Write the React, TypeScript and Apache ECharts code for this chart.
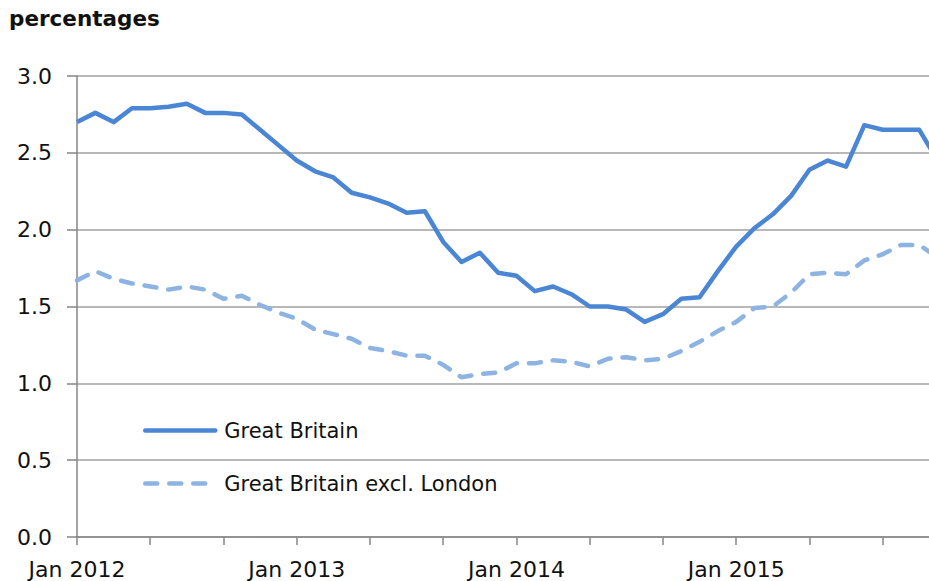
import React, { useEffect, useRef } from "react";
import * as echarts from "echarts";

const MONTHS = ["Jan", "Feb", "Mar", "Apr", "May", "Jun", "Jul", "Aug", "Sep", "Oct", "Nov", "Dec"];
const YEARS = [2012, 2013, 2014, 2015];
const categories: string[] = YEARS.flatMap((y) => MONTHS.map((m) => `${m} ${y}`));

const greatBritain = [
  2.70, 2.76, 2.70, 2.79, 2.79, 2.80, 2.82, 2.76, 2.76, 2.75,
  2.65, 2.55, 2.45, 2.38, 2.34, 2.24, 2.21, 2.17, 2.11, 2.12,
  1.92, 1.79, 1.85, 1.72, 1.70, 1.60, 1.63, 1.58, 1.50, 1.50,
  1.48, 1.40, 1.45, 1.55, 1.56, 1.73, 1.89, 2.01, 2.10, 2.22,
  2.39, 2.45, 2.41, 2.68, 2.65, 2.65, 2.65, 2.45,
];

const gbExclLondon = [
  1.67, 1.73, 1.68, 1.65, 1.63, 1.61, 1.63, 1.61, 1.55, 1.57,
  1.51, 1.46, 1.42, 1.35, 1.32, 1.29, 1.23, 1.21, 1.18, 1.18,
  1.12, 1.04, 1.06, 1.07, 1.13, 1.13, 1.15, 1.14, 1.11, 1.16,
  1.17, 1.15, 1.16, 1.21, 1.27, 1.34, 1.40, 1.49, 1.50, 1.59,
  1.71, 1.72, 1.71, 1.80, 1.84, 1.90, 1.90, 1.82,
];

const seriesNames = ["Great Britain", "Great Britain excl. London"];
const yTicks = { min: 0, max: 3, interval: 0.5 };

const FONT = "DejaVu Sans";
const DASH = [12, 12];

export default function App() {
  const ref = useRef<HTMLDivElement>(null);

  useEffect(() => {
    if (!ref.current) return;
    const chart = echarts.init(ref.current, null, { renderer: "svg" });
    chart.setOption({
      animation: false,
      backgroundColor: "#ffffff",
      title: {
        text: "percentages",
        left: 9,
        top: 7,
        padding: 0,
        textStyle: { fontFamily: FONT, fontWeight: "bold", fontSize: 21.5, color: "#111111" },
      },
      legend: {
        orient: "vertical",
        left: 143,
        top: 420,
        padding: 0,
        itemWidth: 70,
        itemHeight: 21,
        itemGap: 32,
        icon: "inherit",
        itemStyle: { opacity: 0 },
        lineStyle: { width: 4.5, cap: "round" },
        data: seriesNames,
        textStyle: { fontFamily: FONT, fontSize: 21, color: "#111111", padding: [0, 0, 0, 4] },
      },
      grid: { left: 77, top: 76, width: 860.6, height: 461, containLabel: false },
      xAxis: {
        type: "category",
        data: categories,
        boundaryGap: false,
        axisLine: { show: true, lineStyle: { color: "#868686", width: 1.5 } },
        axisTick: { show: true, interval: 3, length: 8, lineStyle: { color: "#868686", width: 1.5 } },
        axisLabel: {
          interval: 11,
          margin: 21,
          fontFamily: FONT,
          fontSize: 22,
          color: "#111111",
        },
        splitLine: { show: false },
      },
      yAxis: {
        type: "value",
        min: yTicks.min,
        max: yTicks.max,
        interval: yTicks.interval,
        axisLine: { show: true, lineStyle: { color: "#868686", width: 1.5 } },
        axisTick: { show: true, length: 10, lineStyle: { color: "#868686", width: 1.5 } },
        axisLabel: {
          margin: 25,
          fontFamily: FONT,
          fontSize: 22,
          color: "#111111",
          formatter: (v: number) => v.toFixed(1),
        },
        splitLine: { show: true, lineStyle: { color: "#a0a0a0", width: 1.5 } },
      },
      series: [
        {
          name: seriesNames[0],
          type: "line",
          data: greatBritain,
          symbol: "none",
          color: "#4a86d4",
          lineStyle: { color: "#4a86d4", width: 4.5, join: "round" },
        },
        {
          name: seriesNames[1],
          type: "line",
          data: gbExclLondon,
          symbol: "none",
          color: "#8db3e2",
          lineStyle: { color: "#8db3e2", width: 4.5, type: DASH, cap: "round", join: "round" },
        },
      ],
    });
    return () => chart.dispose();
  }, []);

  return (
    <div
      style={{
        position: "fixed",
        left: 0,
        top: 0,
        width: 929,
        height: 581,
        overflow: "hidden",
        background: "#ffffff",
      }}
    >
      <div ref={ref} style={{ width: 960, height: 581 }} />
    </div>
  );
}
